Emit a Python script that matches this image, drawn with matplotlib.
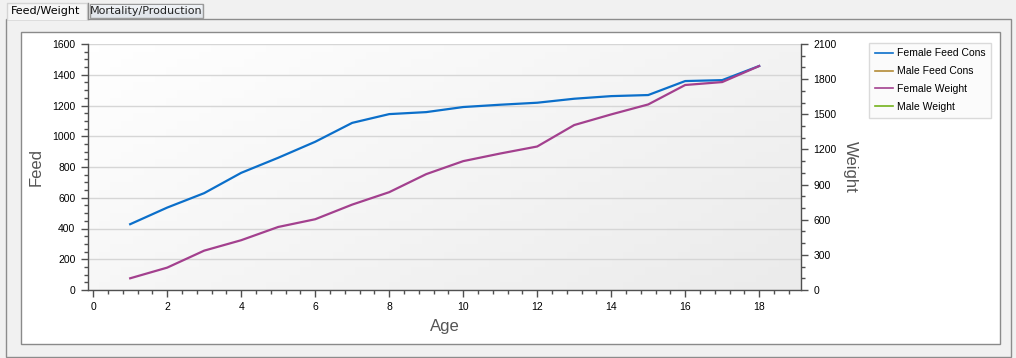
#!/usr/bin/env python3
"""Feed/Weight tab: feed consumption and body weight by age."""

import matplotlib

matplotlib.use("Agg")

import matplotlib.pyplot as plt
import numpy as np
from matplotlib.patches import Rectangle
from matplotlib.lines import Line2D

W, H = 1016, 358

age = [1, 2, 3, 4, 5, 6, 7, 8, 9, 10, 11, 12, 13, 14, 15, 16, 17, 18]
female_feed = [428, 536, 630, 762, 860, 964, 1087, 1144, 1157, 1190,
               1205, 1218, 1244, 1261, 1268, 1359, 1365, 1457]
female_weight = [100, 191, 336, 425, 538, 604, 729, 835, 989, 1100,
                 1165, 1225, 1408, 1499, 1584, 1750, 1775, 1912]
male_feed = []
male_weight = []
male_age = []

feed_ticks = [0, 200, 400, 600, 800, 1000, 1200, 1400, 1600]
weight_ticks = [0, 300, 600, 900, 1200, 1500, 1800, 2100]
age_ticks = [0, 2, 4, 6, 8, 10, 12, 14, 16, 18]

C_BLUE = "#0b6fca"
C_BROWN = "#b38b35"
C_PINK = "#a3408e"
C_GREEN = "#74b21c"
C_AXIS = "#505050"
C_LABEL = "#555555"
FONT = "Liberation Sans"

plt.rcParams["font.family"] = [FONT, "DejaVu Sans"]


def px_box(x0, y0, x1, y1):
    """pixel box (top-left origin) -> figure fraction [l, b, w, h]"""
    return [x0 / W, 1 - y1 / H, (x1 - x0) / W, (y1 - y0) / H]


fig = plt.figure(figsize=(W / 100, H / 100), dpi=100, facecolor="#f1f1f1")

# chrome: tabs + panel frames, drawn in pixel coords
bg = fig.add_axes([0, 0, 1, 1])
bg.set_xlim(0, W)
bg.set_ylim(H, 0)
bg.axis("off")
bg.add_patch(Rectangle((5.5, 18.5), 1005.5, 338, facecolor="#f1f1f1",
                       edgecolor="#8c8c8c", linewidth=1.0))
bg.add_patch(Rectangle((20.5, 31.5), 979, 312, facecolor="white",
                       edgecolor="#8a8a8a", linewidth=1.0))
# active tab
bg.add_patch(Rectangle((7, 2.5), 80, 17, facecolor="#f6f6f6",
                       edgecolor="none", zorder=3))
bg.plot([7, 7, 87, 87], [19, 2.5, 2.5, 19], color="#d4d4d4", lw=1.0, zorder=4)
bg.plot([87.5, 87.5], [3, 19], color="#8c8c8c", lw=1.0, zorder=4)
bg.text(46, 11, "Feed/Weight", ha="center", va="center", fontsize=8,
        family="DejaVu Sans", color="black", zorder=5)
# inactive tab
bg.add_patch(Rectangle((89.5, 3.5), 113, 14.5, facecolor="#e2e6ec",
                       edgecolor="#9a9a9a", linewidth=1.0, zorder=3))
bg.add_patch(Rectangle((90.5, 4.5), 111, 6, facecolor="#eef1f5",
                       edgecolor="none", zorder=3))
bg.text(146, 11, "Mortality/Production", ha="center", va="center", fontsize=8,
        family="DejaVu Sans", color="#222222", zorder=5)

# plot area
ax = fig.add_axes(px_box(88, 44, 801, 290))
ax.set_facecolor("none")
ax.set_xlim(-0.14, 19.13)
ax.set_ylim(0, 1600)

gx, gy = np.meshgrid(np.linspace(0, 1, 64), np.linspace(0, 1, 32))
grad = 0.6 * gx + 0.4 * gy
ax.imshow(grad, extent=(-0.14, 19.13, 0, 1600), origin="upper", aspect="auto",
          cmap=matplotlib.colors.LinearSegmentedColormap.from_list(
              "bgrad", ["#ffffff", "#ebebeb"]), zorder=0)

ax.set_yticks(feed_ticks)
ax.set_yticks(np.arange(0, 1601, 50), minor=True)
ax.set_xticks(age_ticks)
ax.set_xticks(np.arange(0, 19.1, 0.4), minor=True)
ax.grid(True, axis="y", which="major", color="#d6d6d6", linewidth=1.0, zorder=1)

ax.plot(age, female_feed, color=C_BLUE, linewidth=1.6, zorder=4)

ax2 = ax.twinx()
ax2.set_ylim(0, 2100)
ax2.set_yticks(weight_ticks)
ax2.set_yticks(np.arange(0, 2101, 100), minor=True)
ax2.plot(age, female_weight, color=C_PINK, linewidth=1.6, zorder=4)
ax2.plot(male_age, male_weight, color=C_GREEN, linewidth=1.6)
ax.plot(male_age, male_feed, color=C_BROWN, linewidth=1.6)

for a in (ax, ax2):
    a.spines["top"].set_visible(False)
    for s in a.spines.values():
        s.set_color(C_AXIS)
        s.set_linewidth(1.0)
    a.tick_params(which="major", length=5, width=1, color=C_AXIS,
                  labelsize=7.5, pad=4)
    a.tick_params(which="minor", length=3, width=1, color=C_AXIS)
ax.spines["right"].set_visible(False)
ax2.spines["left"].set_visible(False)
ax2.spines["bottom"].set_visible(False)

ax.set_ylabel("Feed", fontsize=12, color=C_LABEL, labelpad=6)
ax.set_xlabel("Age", fontsize=12, color=C_LABEL, labelpad=5)
ax2.set_ylabel("Weight", fontsize=12, color=C_LABEL, rotation=-90, labelpad=15)

handles = [
    Line2D([], [], color=C_BLUE, lw=1.2),
    Line2D([], [], color=C_BROWN, lw=1.2),
    Line2D([], [], color=C_PINK, lw=1.2),
    Line2D([], [], color=C_GREEN, lw=1.2),
]
labels = ["Female Feed Cons", "Male Feed Cons", "Female Weight", "Male Weight"]
leg = fig.legend(handles, labels, loc="upper left",
                 bbox_to_anchor=(869 / W, 1 - 42.5 / H),
                 prop={"size": 7.5}, frameon=True,
                 fancybox=False, edgecolor="#d2d2d2", facecolor="#fafafa",
                 borderpad=0.55, labelspacing=0.76, handlelength=1.8,
                 handletextpad=0.3, borderaxespad=0)
leg.get_frame().set_linewidth(1.0)

fig.savefig("out.png", dpi=100, facecolor=fig.get_facecolor())
